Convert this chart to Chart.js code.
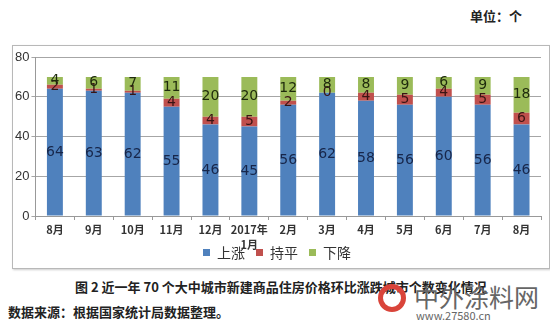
<!DOCTYPE html>
<html>
<head>
<meta charset="utf-8">
<script src="https://cdn.jsdelivr.net/npm/chart.js@4"></script>
<style>
  body { margin: 0; width: 550px; height: 327px; background: #fff; position: relative; overflow: hidden;
         font-family: "Noto Sans CJK SC", "Noto Sans", sans-serif; }
  #unit { position: absolute; left: 470px; top: 6px; font-size: 13px; font-weight: bold; color: #222; }
  #box { position: absolute; left: 12px; top: 45px; width: 536px; height: 222px; border: 1px solid #b8b8b8;
         box-shadow: 1px 1px 2px #ccc; }
  #title { position: absolute; left: 75px; top: 277px; font-size: 13px; font-weight: bold; color: #222; }
  #source { position: absolute; left: 8px; top: 302px; font-size: 13px; font-weight: bold; color: #222; }
  #mark { position: absolute; left: 378px; top: 280px; color: #777; }
  #mark .logo { position: absolute; left: 0; top: 4px; width: 28px; height: 28px; border-radius: 50%;
                border: 5px solid #d9443a; box-sizing: border-box; }
  #mark .name { position: absolute; left: 36px; top: -2px; font-size: 25px; white-space: nowrap; color: #666; }
  #mark .url { position: absolute; left: 38px; top: 27px; font-size: 11px; white-space: nowrap; color: #666; }
</style>
</head>
<body>
<div id="unit">单位：个</div>
<div id="box"><canvas id="chart"></canvas></div>
<div id="title">图 2 近一年 70 个大中城市新建商品住房价格环比涨跌城市个数变化情况</div>
<div id="source">数据来源：根据国家统计局数据整理。</div>
<div id="mark"><div class="logo"></div><div class="name">中外涂料网</div><div class="url">www.27580.cn</div></div>
<script>
// months on the x axis
const months = ['8月', '9月', '10月', '11月', '12月', ['2017年', '1月'], '2月', '3月', '4月', '5月', '6月', '7月', '8月'];
// number of cities per month
const rising = [64, 63, 62, 55, 46, 45, 56, 62, 58, 56, 60, 56, 46];
const flat = [2, 1, 1, 4, 4, 5, 2, 0, 4, 5, 4, 5, 6];
const falling = [4, 6, 7, 11, 20, 20, 12, 8, 8, 9, 6, 9, 18];
const yTicks = [0, 20, 40, 60, 80];

// draws the value in the middle of each stacked segment
const barLabels = {
    id: 'barLabels',
    afterDatasetsDraw(chart) {
        const ctx = chart.ctx;
        ctx.save();
        ctx.font = '14px "DejaVu Sans", sans-serif';
        ctx.textAlign = 'center';
        ctx.textBaseline = 'middle';
        chart.data.datasets.forEach((ds, i) => {
            const meta = chart.getDatasetMeta(i);
            ctx.fillStyle = ds.labelColor;
            meta.data.forEach((bar, j) => {
                const y = (bar.y + bar.base) / 2;
                ctx.fillText(String(ds.data[j]), bar.x, y);
            });
        });
        ctx.restore();
    }
};

// the legend row sits beside the hanging "1月" line, like the original
const liftLegend = {
    id: 'liftLegend',
    afterLayout(chart) {
        const lg = chart.legend;
        const h = lg.bottom - lg.top;
        const center = chart.scales.x.top + 36;
        lg.top = center - h / 2;
        lg.bottom = lg.top + h;
    }
};

new Chart(document.getElementById('chart'), {
    type: 'bar',
    data: {
        labels: months,
        datasets: [
            { label: '上涨', data: rising, backgroundColor: '#4f81bd', labelColor: '#17264a' },
            { label: '持平', data: flat, backgroundColor: '#c0504d', labelColor: '#3a1414' },
            { label: '下降', data: falling, backgroundColor: '#9bbb59', labelColor: '#1e2a0c' }
        ]
    },
    options: {
        responsive: true,
        maintainAspectRatio: false,
        animation: false,
        // negative bottom padding: the legend is moved up next to the axis labels anyway
        layout: { padding: { left: 0, right: 8, top: 11, bottom: -19 } },
        datasets: { bar: { categoryPercentage: 1, barPercentage: 0.41 } },
        scales: {
            x: {
                stacked: true,
                afterFit: axis => { axis.height = 36; },
                grid: { display: true, drawOnChartArea: false, offset: true, tickLength: 4, color: '#999' },
                border: { color: '#999' },
                ticks: { color: '#333', font: { size: 11, weight: 'bold', lineHeight: 1.3, family: '"Noto Sans CJK SC", sans-serif' },
                         maxRotation: 0, autoSkip: false, padding: 3 }
            },
            y: {
                stacked: true,
                min: 0,
                max: 80,
                afterBuildTicks: axis => { axis.ticks = yTicks.map(v => ({ value: v })); },
                grid: { color: '#a6a6a6', tickLength: 4 },
                border: { color: '#999' },
                ticks: { color: '#333', font: { size: 13, family: '"Liberation Sans", sans-serif' }, padding: 2 }
            }
        },
        plugins: {
            legend: {
                position: 'bottom',
                labels: { boxWidth: 7, boxHeight: 7, padding: 11, color: '#333',
                          font: { size: 14, family: '"Noto Sans CJK SC", sans-serif' } }
            },
            tooltip: { enabled: false }
        }
    },
    plugins: [barLabels, liftLegend]
});
</script>
</body>
</html>
